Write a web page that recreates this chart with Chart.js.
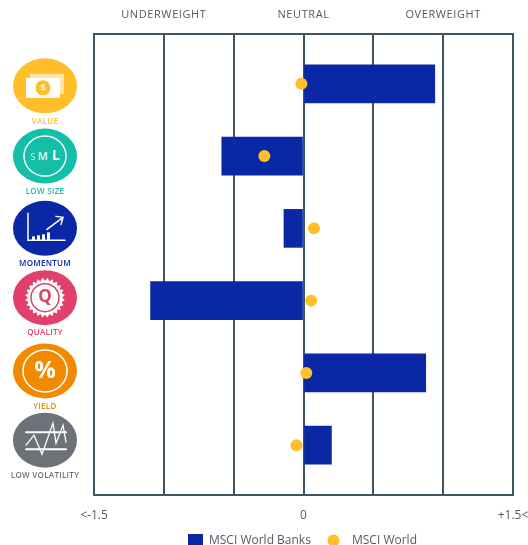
<!DOCTYPE html>
<html>
<head>
<meta charset="utf-8">
<style>
  html, body { margin: 0; padding: 0; background: #fff; overflow: hidden; }
  #wrap { position: relative; width: 528px; height: 545px; }
</style>
<script src="https://cdn.jsdelivr.net/npm/chart.js@4"></script>
</head>
<body>
<div id="wrap"><canvas id="factorChart" width="528" height="545"></canvas></div>
<script>
const factors = ['VALUE', 'LOW SIZE', 'MOMENTUM', 'QUALITY', 'YIELD', 'LOW VOLATILITY'];
const factorColors = ['#ffbe2a', '#14bfa8', '#0a27a6', '#e0406b', '#f18a00', '#6d7278'];
const banksValues = [0.94, -0.585, -0.14, -1.095, 0.875, 0.2];
const worldValues = [-0.015, -0.28, 0.075, 0.055, 0.02, -0.05];
const tickLabels = { '-1.5': '<-1.5', '0': '0', '1.5': '+1.5<' };
const zoneLabels = [[-1, 'UNDERWEIGHT'], [0, 'NEUTRAL'], [1, 'OVERWEIGHT']];

const BANKS_COLOR = '#0a27a6';
const WORLD_COLOR = '#ffbe2a';
const GRID_COLOR = '#3f5561';
const TEXT_COLOR = '#4f5c68';
const FONT = '"Open Sans", sans-serif';

// badge centres drift upwards from the row centres further down the column
const badgeShift = [2, 0, 0, -3, -2, -5];

function drawBadgeGlyph(ctx, i, x, y) {
    ctx.strokeStyle = '#fff';
    ctx.fillStyle = '#fff';
    ctx.lineWidth = 1.5;
    ctx.lineCap = 'round';
    ctx.textAlign = 'center';
    ctx.textBaseline = 'middle';
    if (i === 0) { // banknote and coin
        ctx.globalAlpha = 0.6;
        ctx.fillRect(x - 15, y - 12, 34, 20);
        ctx.globalAlpha = 1;
        ctx.fillRect(x - 19, y - 8, 34, 20);
        ctx.fillStyle = factorColors[0];
        ctx.beginPath();
        ctx.arc(x - 2, y + 2, 7.5, 0, Math.PI * 2);
        ctx.fill();
        ctx.fillStyle = '#fff';
        ctx.font = 'bold 9px ' + FONT;
        ctx.fillText('$', x - 2, y + 2.5);
    } else if (i === 1) { // size ring
        ctx.beginPath();
        ctx.ellipse(x, y, 21, 20, 0, 0, Math.PI * 2);
        ctx.stroke();
        ctx.font = '9px ' + FONT;
        ctx.globalAlpha = 0.8;
        ctx.fillText('S', x - 12, y + 1);
        ctx.font = 'bold 11px ' + FONT;
        ctx.fillText('M', x - 2, y + 1);
        ctx.globalAlpha = 1;
        ctx.font = 'bold 14px ' + FONT;
        ctx.fillText('L', x + 11, y);
    } else if (i === 2) { // rising chart
        ctx.beginPath();
        ctx.moveTo(x - 17, y - 15);
        ctx.lineTo(x - 17, y + 12);
        ctx.lineTo(x + 20, y + 12);
        ctx.stroke();
        [[-13, 4], [-8, 5], [-3, 6], [2, 8]].forEach(b => ctx.fillRect(x + b[0], y + 12 - b[1], 3, b[1]));
        ctx.beginPath();
        ctx.moveTo(x + 2, y + 1);
        ctx.lineTo(x + 18, y - 11);
        ctx.moveTo(x + 11, y - 12);
        ctx.lineTo(x + 18, y - 11);
        ctx.lineTo(x + 16, y - 4);
        ctx.stroke();
    } else if (i === 3) { // rosette with Q
        ctx.beginPath();
        for (let a = 0; a < 48; a++) {
            const r = a % 2 ? 20 : 17;
            const t = a / 48 * Math.PI * 2;
            ctx.lineTo(x + Math.cos(t) * r, y + Math.sin(t) * r);
        }
        ctx.closePath();
        ctx.fill();
        ctx.strokeStyle = factorColors[3];
        ctx.beginPath();
        ctx.arc(x, y, 14, 0, Math.PI * 2);
        ctx.stroke();
        ctx.fillStyle = factorColors[3];
        ctx.font = 'bold 17px ' + FONT;
        ctx.fillText('Q', x, y);
    } else if (i === 4) { // percent ring
        ctx.beginPath();
        ctx.ellipse(x, y, 22, 21, 0, 0, Math.PI * 2);
        ctx.stroke();
        ctx.font = 'bold 24px ' + FONT;
        ctx.fillText('%', x, y);
    } else { // flattened zigzag between two bands
        ctx.lineWidth = 2;
        ctx.beginPath();
        ctx.moveTo(x - 19, y - 8);
        ctx.lineTo(x + 21, y - 8);
        ctx.moveTo(x - 19, y + 9);
        ctx.lineTo(x + 21, y + 9);
        ctx.stroke();
        ctx.lineWidth = 1.3;
        ctx.beginPath();
        [[-19, 5], [-11, -5], [-3, 14], [8, -17], [11, 3], [18, -15], [21, 2]].forEach(p => ctx.lineTo(x + p[0], y + p[1]));
        ctx.stroke();
    }
}

const decorations = {
    id: 'decorations',
    beforeDatasetsDraw(chart) {
        const { ctx, chartArea: a } = chart;
        ctx.save();
        ctx.strokeStyle = GRID_COLOR;
        ctx.lineWidth = 2;
        ctx.strokeRect(a.left, a.top, a.right - a.left, a.bottom - a.top);
        ctx.restore();
    },
    afterDraw(chart) {
        const { ctx, scales } = chart;
        ctx.save();

        // zone headings above the frame
        ctx.font = '11px ' + FONT;
        ctx.letterSpacing = '0.6px';
        ctx.fillStyle = TEXT_COLOR;
        ctx.textAlign = 'center';
        ctx.textBaseline = 'middle';
        zoneLabels.forEach(z => ctx.fillText(z[1], scales.x.getPixelForValue(z[0]), 15));

        // factor badges
        factors.forEach((name, i) => {
            const y = scales.y.getPixelForValue(i) + badgeShift[i];
            ctx.fillStyle = factorColors[i];
            ctx.beginPath();
            ctx.ellipse(45, y, 32, 27.5, 0, 0, Math.PI * 2);
            ctx.fill();
            ctx.save();
            ctx.letterSpacing = '0px';
            drawBadgeGlyph(ctx, i, 45, y);
            ctx.restore();
            ctx.fillStyle = factorColors[i];
            ctx.font = '600 8px ' + FONT;
            ctx.letterSpacing = '0.3px';
            ctx.textAlign = 'center';
            ctx.textBaseline = 'middle';
            ctx.fillText(name, 45, y + 35.5);
        });

        // legend row
        ctx.fillStyle = BANKS_COLOR;
        ctx.fillRect(188, 534, 15, 12);
        ctx.fillStyle = WORLD_COLOR;
        ctx.beginPath();
        ctx.arc(333.5, 540.5, 6, 0, Math.PI * 2);
        ctx.fill();
        ctx.fillStyle = TEXT_COLOR;
        ctx.font = '12px ' + FONT;
        ctx.letterSpacing = '0px';
        ctx.textAlign = 'left';
        ctx.fillText(chart.data.datasets[1].label, 209, 541);
        ctx.fillText(chart.data.datasets[0].label, 352, 541);
        ctx.restore();
    }
};

new Chart(document.getElementById('factorChart'), {
    data: {
        datasets: [
            {
                type: 'scatter',
                label: 'MSCI World',
                order: 1,
                data: worldValues.map((v, i) => ({ x: v, y: i })),
                backgroundColor: WORLD_COLOR,
                borderWidth: 0,
                pointRadius: 6,
                pointHoverRadius: 6
            },
            {
                type: 'bar',
                label: 'MSCI World Banks',
                order: 2,
                indexAxis: 'y',
                data: banksValues.map((v, i) => ({ x: v, y: i })),
                backgroundColor: BANKS_COLOR,
                barThickness: 38
            }
        ]
    },
    plugins: [decorations],
    options: {
        responsive: false,
        animation: false,
        events: [],
        indexAxis: 'y',
        layout: { padding: { left: 94, right: 15, top: 34, bottom: 0 } },
        plugins: { legend: { display: false }, tooltip: { enabled: false } },
        scales: {
            x: {
                type: 'linear',
                min: -1.5,
                max: 1.5,
                // the end labels may hang past the frame, so they reserve no room
                afterFit(scale) {
                    scale.height = 50;
                    scale.paddingLeft = 0;
                    scale.paddingRight = 0;
                },
                grid: { color: GRID_COLOR, lineWidth: 2, drawTicks: false },
                border: { display: false },
                ticks: {
                    stepSize: 0.5,
                    autoSkip: false,
                    maxRotation: 0,
                    padding: 13,
                    color: TEXT_COLOR,
                    font: { family: '"Open Sans", sans-serif', size: 12 },
                    callback(value) { return tickLabels[String(value)] || ''; }
                }
            },
            y: {
                type: 'linear',
                reverse: true,
                offset: false,
                min: -0.69,
                max: 5.69,
                display: false,
                grid: { display: false }
            }
        }
    }
});
</script>
</body>
</html>
